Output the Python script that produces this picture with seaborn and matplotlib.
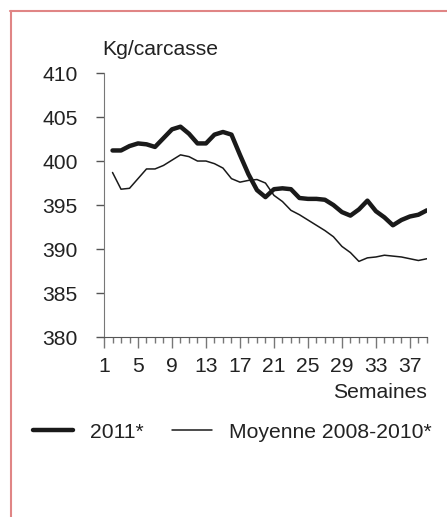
import numpy as np
import pandas as pd
import seaborn as sns
import matplotlib.pyplot as plt
from matplotlib.lines import Line2D

# Weekly carcass weight (kg/carcasse)
weeks = list(range(2, 40))
y2011 = [401.2, 401.2, 401.7, 402.0, 401.9, 401.6, 402.6, 403.6, 403.9, 403.1,
         402.0, 402.0, 403.0, 403.3, 403.0, 400.7, 398.5, 396.7, 395.9, 396.8,
         396.9, 396.8, 395.8, 395.7, 395.7, 395.6, 395.0, 394.2, 393.8, 394.5,
         395.5, 394.3, 393.6, 392.7, 393.3, 393.7, 393.9, 394.4]
moy = [398.7, 396.8, 396.9, 398.0, 399.1, 399.1, 399.5, 400.1, 400.7, 400.5,
       400.0, 400.0, 399.7, 399.2, 398.0, 397.6, 397.8, 397.9, 397.5, 396.1,
       395.4, 394.4, 393.9, 393.3, 392.7, 392.1, 391.4, 390.3, 389.6, 388.6,
       389.0, 389.1, 389.3, 389.2, 389.1, 388.9, 388.7, 388.9]
xtick_labels = [1, 5, 9, 13, 17, 21, 25, 29, 33, 37]
yticks = [380, 385, 390, 395, 400, 405, 410]

df = pd.DataFrame({'Semaine': weeks * 2,
                   'Poids': y2011 + moy,
                   'Serie': ['2011*'] * len(weeks) + ['Moyenne 2008-2010*'] * len(weeks)})

sns.set_style('white')
plt.rcParams['font.family'] = ['Liberation Sans', 'DejaVu Sans']
txt = '#222222'
fs = 15.2

fig = plt.figure(figsize=(4.47, 5.17), dpi=100)
ax = fig.add_axes([0.2327, 0.348, 0.955 - 0.2327, 0.8588 - 0.348])

sns.lineplot(data=df, x='Semaine', y='Poids', hue='Serie', size='Serie',
             sizes={'2011*': 3.2, 'Moyenne 2008-2010*': 1.1},
             palette={'2011*': '#1a1a1a', 'Moyenne 2008-2010*': '#1a1a1a'},
             legend=False, ax=ax)

ax.set_xlim(1, 39)
ax.set_ylim(380, 410)
ax.set_xticks(xtick_labels)
ax.set_xticks(range(1, 40), minor=True)
ax.set_yticks(yticks)
ax.set_xlabel('')
ax.set_ylabel('')
for s in ['top', 'right']:
    ax.spines[s].set_visible(False)
ax.spines['left'].set_color('#777777')
ax.spines['bottom'].set_color('#555555')
ax.tick_params(axis='y', direction='out', length=6, width=1, color='#555555',
               labelsize=fs, labelcolor=txt, pad=13, left=True)
ax.tick_params(axis='x', which='major', direction='out', length=8, width=1,
               color='#777777', labelsize=fs, labelcolor=txt, pad=6, bottom=True)
ax.tick_params(axis='x', which='minor', direction='out', length=4, width=1,
               color='#777777', bottom=True)

fig.text(102 / 447, 1 - 50 / 517, 'Kg/carcasse', fontsize=fs, color=txt,
         ha='left', va='center')
fig.text(427 / 447, 1 - 393 / 517, 'Semaines', fontsize=fs, color=txt,
         ha='right', va='center')

handles = [Line2D([], [], color='#1a1a1a', lw=3.2),
           Line2D([], [], color='#1a1a1a', lw=1.1)]
fig.legend(handles, ['2011*', 'Moyenne 2008-2010*'], loc='center left',
           bbox_to_anchor=(33 / 447, 1 - 432 / 517), ncol=2, frameon=False,
           fontsize=fs, labelcolor=txt, handlelength=1.9, handletextpad=0.8,
           columnspacing=1.33, borderpad=0, borderaxespad=0)

# pink frame (left and top edges visible)
fig.add_artist(Line2D([10.5 / 447, 10.5 / 447], [0, 1 - 11 / 517],
                      transform=fig.transFigure, color='#e08585', lw=1.5))
fig.add_artist(Line2D([10 / 447, 1], [1 - 11 / 517, 1 - 11 / 517],
                      transform=fig.transFigure, color='#e08585', lw=1.5))

fig.savefig('out.png', dpi=100)
